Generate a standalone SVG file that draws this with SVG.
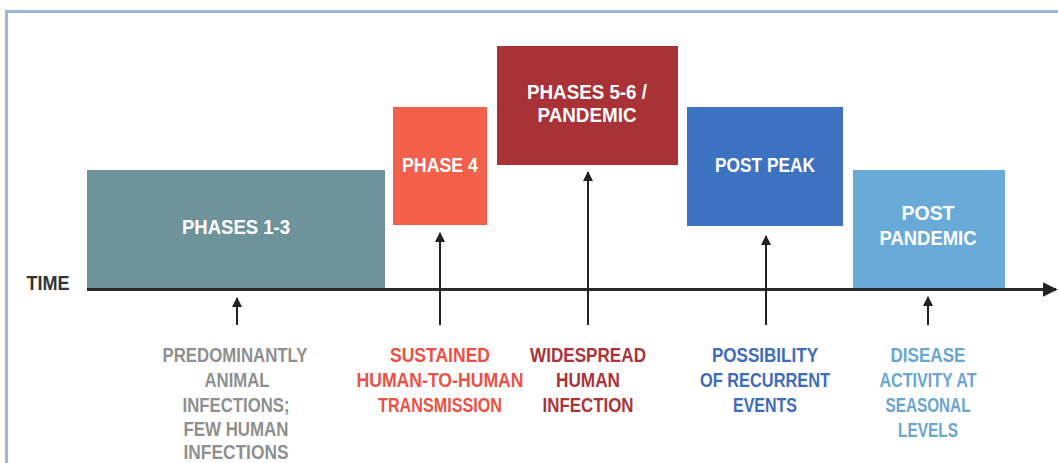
<svg xmlns="http://www.w3.org/2000/svg" width="1058" height="463" viewBox="0 0 1058 463">
<defs>
<style>
text{font-family:"Liberation Sans",Arial,sans-serif;font-weight:bold;text-anchor:middle;font-size:20px}
.w{fill:#ffffff}
.g{fill:#8f8f8f}
.o{fill:#ea5248}
.r{fill:#a9343a}
.b{fill:#3f6cb8}
.lb{fill:#6aa6cf}
.conn line{stroke:#222;stroke-width:2}
</style>
<marker id="ah" viewBox="0 0 10 10" refX="9" refY="5" markerWidth="5" markerHeight="5" orient="auto">
<path d="M0,0 L10,5 L0,10 z" fill="#222"/>
</marker>
</defs>
<rect x="0" y="0" width="1058" height="463" fill="#ffffff"/>
<rect x="6.5" y="11.5" width="1100" height="500" fill="none" stroke="#9ab8dc" stroke-width="3"/>

<g id="phases13">
<rect x="87" y="170" width="298" height="119" fill="#6f939b"/>
<text class="w" x="236" y="234" textLength="108" lengthAdjust="spacingAndGlyphs">PHASES 1-3</text>
</g>
<g id="phase4">
<rect x="393" y="107" width="94" height="118" fill="#f0604a"/>
<text class="w" x="440" y="172" textLength="76" lengthAdjust="spacingAndGlyphs">PHASE 4</text>
</g>
<g id="phases56">
<rect x="497" y="46" width="181" height="119" fill="#a83236"/>
<text class="w" x="587" y="99" textLength="120" lengthAdjust="spacingAndGlyphs">PHASES 5-6 /</text>
<text class="w" x="587" y="122" textLength="99" lengthAdjust="spacingAndGlyphs">PANDEMIC</text>
</g>
<g id="postpeak">
<rect x="687" y="107" width="156" height="119" fill="#3d72c0"/>
<text class="w" x="765" y="172" textLength="100" lengthAdjust="spacingAndGlyphs">POST PEAK</text>
</g>
<g id="postpandemic">
<rect x="853" y="170" width="152" height="119" fill="#6aaad8"/>
<text class="w" x="928" y="220" textLength="53" lengthAdjust="spacingAndGlyphs">POST</text>
<text class="w" x="928" y="245" textLength="97" lengthAdjust="spacingAndGlyphs">PANDEMIC</text>
</g>

<g id="axis">
<text x="48" y="290" fill="#333" textLength="43" lengthAdjust="spacingAndGlyphs" font-size="19">TIME</text>
</g>

<g class="conn" id="connectors">
<line x1="87" y1="289.5" x2="1056" y2="289.5" style="stroke:#2a2a2a;stroke-width:3" marker-end="url(#ah)"/>
<line x1="237" y1="325" x2="237" y2="298" marker-end="url(#ah)"/>
<line x1="440" y1="325" x2="440" y2="233" marker-end="url(#ah)"/>
<line x1="588" y1="325" x2="588" y2="172" marker-end="url(#ah)"/>
<line x1="766" y1="325" x2="766" y2="236" marker-end="url(#ah)"/>
<line x1="928" y1="325" x2="928" y2="297" marker-end="url(#ah)"/>
</g>

<g id="label1">
<text class="g" x="235" y="362" textLength="145" lengthAdjust="spacingAndGlyphs">PREDOMINANTLY</text>
<text class="g" x="237" y="387" textLength="65" lengthAdjust="spacingAndGlyphs">ANIMAL</text>
<text class="g" x="236" y="412" textLength="107" lengthAdjust="spacingAndGlyphs">INFECTIONS;</text>
<text class="g" x="236" y="436" textLength="105" lengthAdjust="spacingAndGlyphs">FEW HUMAN</text>
<text class="g" x="236" y="459" textLength="105" lengthAdjust="spacingAndGlyphs">INFECTIONS</text>
</g>
<g id="label2">
<text class="o" x="440" y="362" textLength="100" lengthAdjust="spacingAndGlyphs">SUSTAINED</text>
<text class="o" x="440" y="387" textLength="167" lengthAdjust="spacingAndGlyphs">HUMAN-TO-HUMAN</text>
<text class="o" x="440" y="412" textLength="124" lengthAdjust="spacingAndGlyphs">TRANSMISSION</text>
</g>
<g id="label3">
<text class="r" x="588" y="362" textLength="116" lengthAdjust="spacingAndGlyphs">WIDESPREAD</text>
<text class="r" x="588" y="387" textLength="64" lengthAdjust="spacingAndGlyphs">HUMAN</text>
<text class="r" x="588" y="412" textLength="91" lengthAdjust="spacingAndGlyphs">INFECTION</text>
</g>
<g id="label4">
<text class="b" x="765" y="362" textLength="106" lengthAdjust="spacingAndGlyphs">POSSIBILITY</text>
<text class="b" x="765" y="387" textLength="130" lengthAdjust="spacingAndGlyphs">OF RECURRENT</text>
<text class="b" x="765" y="412" textLength="64" lengthAdjust="spacingAndGlyphs">EVENTS</text>
</g>
<g id="label5">
<text class="lb" x="928" y="362" textLength="75" lengthAdjust="spacingAndGlyphs">DISEASE</text>
<text class="lb" x="928" y="387" textLength="97" lengthAdjust="spacingAndGlyphs">ACTIVITY AT</text>
<text class="lb" x="928" y="412" textLength="85" lengthAdjust="spacingAndGlyphs">SEASONAL</text>
<text class="lb" x="928" y="437" textLength="60" lengthAdjust="spacingAndGlyphs">LEVELS</text>
</g>
</svg>
